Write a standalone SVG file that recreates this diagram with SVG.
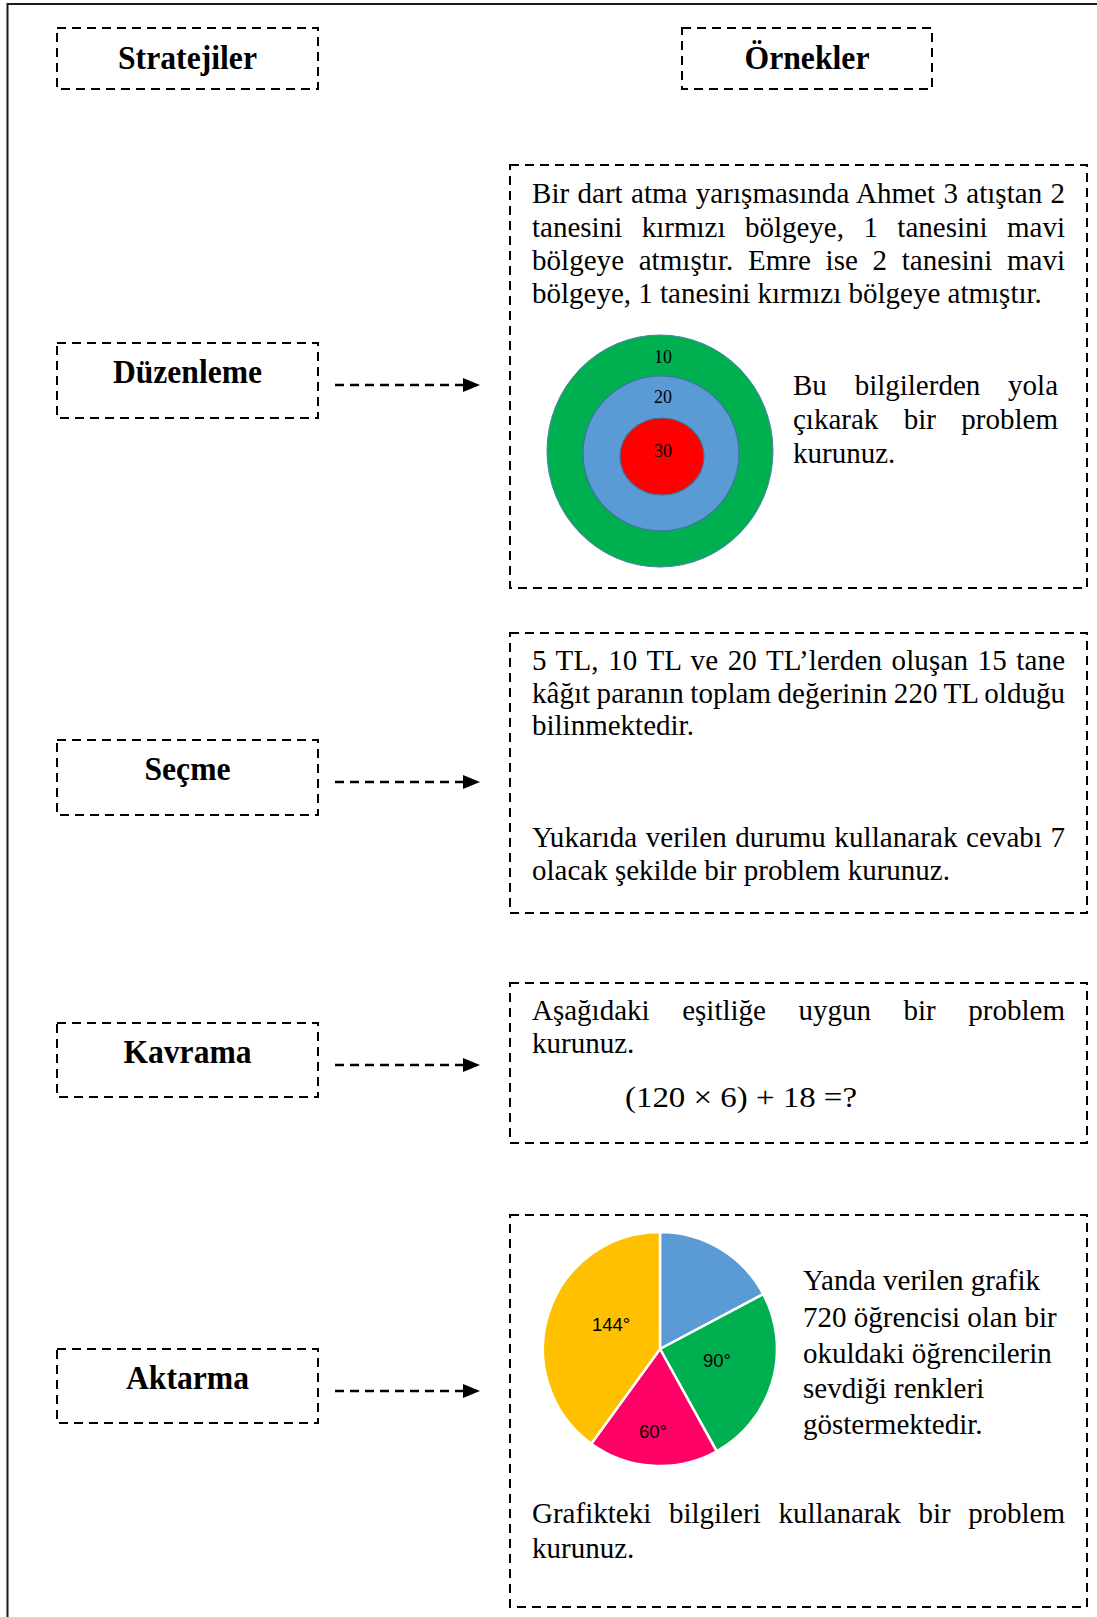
<svg xmlns="http://www.w3.org/2000/svg" width="1097" height="1617" viewBox="0 0 1097 1617">
<style>
.box{fill:none;stroke:#000;stroke-width:2;stroke-dasharray:9 6}
.hd{font-family:"Liberation Serif","Times New Roman",serif;font-weight:bold;font-size:34px;text-anchor:middle;fill:#000}
.tx{font-family:"Liberation Serif","Times New Roman",serif;font-size:29px;fill:#000}
.sm{font-family:"Liberation Serif","Times New Roman",serif;font-size:18px;fill:#000;text-anchor:middle}
.pl{font-family:"Liberation Sans",Arial,sans-serif;font-size:18.5px;fill:#000}
.con{fill:none;stroke:#000;stroke-width:2.5;stroke-dasharray:9 6}
.sl{stroke:#fff;stroke-width:2.5}
</style>
<defs>
<marker id="ah" markerUnits="userSpaceOnUse" markerWidth="18" markerHeight="16" refX="0" refY="7" orient="auto">
<path d="M0,0 L17,7 L0,14 Z" fill="#000"/>
</marker>
</defs>
<rect x="0" y="0" width="1097" height="1617" fill="#fff"/>
<rect x="7.5" y="4" width="1100" height="1630" fill="none" stroke="#1a1a1a" stroke-width="2"/>

<g id="stratejiler">
<rect class="box" x="57" y="28" width="261" height="61"/>
<text class="hd" x="187.5" y="69" textLength="139" lengthAdjust="spacingAndGlyphs">Stratejiler</text>
</g>
<g id="ornekler">
<rect class="box" x="682" y="28" width="250" height="61"/>
<text class="hd" x="807" y="69" textLength="125" lengthAdjust="spacingAndGlyphs">Örnekler</text>
</g>

<g id="duzenleme">
<rect class="box" x="57" y="343" width="261" height="75"/>
<text class="hd" x="187.5" y="383" textLength="149" lengthAdjust="spacingAndGlyphs">Düzenleme</text>
</g>
<g id="secme">
<rect class="box" x="57" y="740" width="261" height="75"/>
<text class="hd" x="187.5" y="780" textLength="86" lengthAdjust="spacingAndGlyphs">Seçme</text>
</g>
<g id="kavrama">
<rect class="box" x="57" y="1023" width="261" height="74"/>
<text class="hd" x="187.5" y="1063" textLength="128" lengthAdjust="spacingAndGlyphs">Kavrama</text>
</g>
<g id="aktarma">
<rect class="box" x="57" y="1349" width="261" height="74"/>
<text class="hd" x="187.5" y="1389" textLength="123" lengthAdjust="spacingAndGlyphs">Aktarma</text>
</g>

<g id="ornek-duzenleme">
<rect class="box" x="510" y="165" width="577" height="423"/>
<text class="tx" x="532" y="203" word-spacing="1" textLength="533" lengthAdjust="spacing">Bir dart atma yarışmasında Ahmet 3 atıştan 2</text>
<text class="tx" x="532" y="237" word-spacing="12.2" textLength="533" lengthAdjust="spacing">tanesini kırmızı bölgeye, 1 tanesini mavi</text>
<text class="tx" x="532" y="270" word-spacing="7.35" textLength="533" lengthAdjust="spacing">bölgeye atmıştır. Emre ise 2 tanesini mavi</text>
<text class="tx" x="532" y="303">bölgeye, 1 tanesini kırmızı bölgeye atmıştır.</text>
<ellipse cx="660" cy="451" rx="113" ry="116" fill="#00B050" stroke="#4f7fae" stroke-width="1"/>
<ellipse cx="661" cy="453.5" rx="78" ry="77.5" fill="#5B9BD5" stroke="#41719C" stroke-width="1.2"/>
<ellipse cx="662" cy="456.5" rx="42" ry="38.5" fill="#FF0000" stroke="#41719C" stroke-width="1.2"/>
<text class="sm" x="663" y="363">10</text>
<text class="sm" x="663" y="403">20</text>
<text class="sm" x="663" y="457">30</text>
<text class="tx" x="793" y="395" word-spacing="20.55" textLength="265" lengthAdjust="spacing">Bu bilgilerden yola</text>
<text class="tx" x="793" y="429" word-spacing="18.15" textLength="265" lengthAdjust="spacing">çıkarak bir problem</text>
<text class="tx" x="793" y="463">kurunuz.</text>
</g>

<g id="ornek-secme">
<rect class="box" x="510" y="633" width="577" height="280"/>
<text class="tx" x="532" y="670" word-spacing="2.13" textLength="533" lengthAdjust="spacing">5 TL, 10 TL ve 20 TL’lerden oluşan 15 tane</text>
<text class="tx" x="532" y="703" word-spacing="-0.85" textLength="533" lengthAdjust="spacing">kâğıt paranın toplam değerinin 220 TL olduğu</text>
<text class="tx" x="532" y="735">bilinmektedir.</text>
<text class="tx" x="532" y="847" word-spacing="1.1" textLength="533" lengthAdjust="spacing">Yukarıda verilen durumu kullanarak cevabı 7</text>
<text class="tx" x="532" y="880">olacak şekilde bir problem kurunuz.</text>
</g>

<g id="ornek-kavrama">
<rect class="box" x="510" y="983" width="577" height="160"/>
<text class="tx" x="532" y="1020" word-spacing="25.3" textLength="533" lengthAdjust="spacing">Aşağıdaki eşitliğe uygun bir problem</text>
<text class="tx" x="532" y="1053">kurunuz.</text>
<text class="tx" x="625" y="1107" textLength="232" lengthAdjust="spacingAndGlyphs">(120 × 6) + 18 =?</text>
</g>

<g id="ornek-aktarma">
<rect class="box" x="510" y="1215" width="577" height="392"/>
<path d="M660,1349 L660,1232 A117,117 0 0 1 763.3,1294.1 Z" fill="#5B9BD5" class="sl"/>
<path d="M660,1349 L763.3,1294.1 A117,117 0 0 1 716.7,1451.3 Z" fill="#00B050" class="sl"/>
<path d="M660,1349 L716.7,1451.3 A117,117 0 0 1 591.2,1443.7 Z" fill="#FF0066" class="sl"/>
<path d="M660,1349 L591.2,1443.7 A117,117 0 0 1 660,1232 Z" fill="#FFC000" class="sl"/>
<text class="pl" x="592" y="1331">144°</text>
<text class="pl" x="703" y="1367">90°</text>
<text class="pl" x="639" y="1438">60°</text>
<text class="tx" x="803" y="1290">Yanda verilen grafik</text>
<text class="tx" x="803" y="1327">720 öğrencisi olan bir</text>
<text class="tx" x="803" y="1363">okuldaki öğrencilerin</text>
<text class="tx" x="803" y="1398">sevdiği renkleri</text>
<text class="tx" x="803" y="1434">göstermektedir.</text>
<text class="tx" x="532" y="1523" word-spacing="10.4" textLength="533" lengthAdjust="spacing">Grafikteki bilgileri kullanarak bir problem</text>
<text class="tx" x="532" y="1558">kurunuz.</text>
</g>

<g id="connectors">
<line class="con" x1="335" y1="385" x2="463" y2="385" marker-end="url(#ah)"/>
<line class="con" x1="335" y1="782" x2="463" y2="782" marker-end="url(#ah)"/>
<line class="con" x1="335" y1="1065" x2="463" y2="1065" marker-end="url(#ah)"/>
<line class="con" x1="335" y1="1391" x2="463" y2="1391" marker-end="url(#ah)"/>
</g>
</svg>
